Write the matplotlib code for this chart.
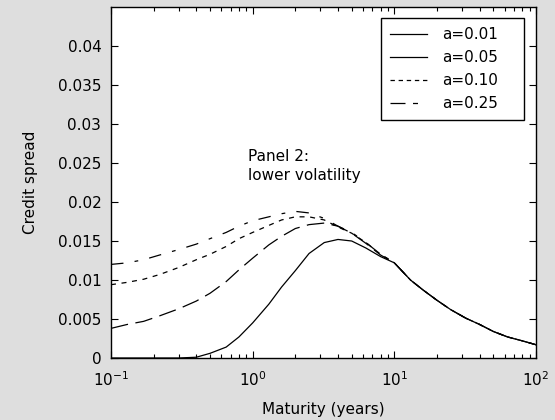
import matplotlib
matplotlib.use("Agg")
import matplotlib.pyplot as plt
from matplotlib.lines import Line2D
import numpy as np

# Maturity grid (years)
maturity = [0.1, 0.13, 0.17, 0.22, 0.3, 0.4, 0.5, 0.65, 0.8, 1.0, 1.3, 1.6, 2.0, 2.5,
            3.2, 4.0, 5.0, 6.3, 8.0, 10, 13, 16, 20, 25, 32, 40, 50, 63, 80, 100]

# Shared long-maturity tail (T >= 10)
tail = [0.0122, 0.0100, 0.0087, 0.0074, 0.0062, 0.0051, 0.0043, 0.0034, 0.0027, 0.0022, 0.0017]

spread_a001 = [0, 0, 0, 0, 0, 0.0001, 0.0006, 0.0014, 0.0027, 0.0045, 0.0069, 0.0091, 0.0112,
               0.0134, 0.0148, 0.0152, 0.0150, 0.0141, 0.0130] + tail
spread_a005 = [0.0038, 0.0043, 0.0047, 0.0054, 0.0063, 0.0073, 0.0083, 0.0098, 0.0113, 0.0128,
               0.0145, 0.0156, 0.0166, 0.0171, 0.0173, 0.0169, 0.0160, 0.0147, 0.0132] + tail
spread_a010 = [0.0094, 0.0097, 0.0101, 0.0107, 0.0116, 0.0126, 0.0133, 0.0143, 0.0153, 0.0161,
               0.0170, 0.0177, 0.0181, 0.0181, 0.0177, 0.0168, 0.0160, 0.0148, 0.0133] + tail
spread_a025 = [0.0120, 0.0122, 0.0126, 0.0132, 0.0139, 0.0146, 0.0153, 0.0161, 0.0169, 0.0176,
               0.0181, 0.0185, 0.0188, 0.0186, 0.0179, 0.0169, 0.0161, 0.0148, 0.0133] + tail

labels = ["a=0.01", "a=0.05", "a=0.10", "a=0.25"]
yticks = [0, 0.005, 0.01, 0.015, 0.02, 0.025, 0.03, 0.035, 0.04]
ytick_labels = ["0", "0.005", "0.01", "0.015", "0.02", "0.025", "0.03", "0.035", "0.04"]

plt.rcParams['font.family'] = ['DejaVu Sans']
fs = 11

fig = plt.figure(figsize=(5.55, 4.2), dpi=100, facecolor='#dedede')
ax = fig.add_axes([0.2, 0.1476, 0.7658, 0.8357])
ax.set_facecolor('white')

lw = 0.9
ax.plot(maturity, spread_a001, color='black', lw=lw, linestyle='-')
ax.plot(maturity, spread_a005, color='black', lw=lw, linestyle=(0, (14, 6)))
ax.plot(maturity, spread_a010, color='black', lw=lw, linestyle=(0, (4, 4.5)))
ax.plot(maturity, spread_a025, color='black', lw=lw, linestyle=(0, (10, 9, 3, 9)))

ax.set_xscale('log')
ax.set_xlim(0.1, 100)
ax.set_ylim(0, 0.045)
ax.set_yticks(yticks)
ax.set_yticklabels(ytick_labels)

ax.tick_params(which='both', direction='in', top=True, right=True, labelsize=fs, colors='black')
ax.tick_params(which='major', length=5, width=0.8)
ax.tick_params(which='minor', length=3, width=0.8)
ax.tick_params(axis='x', which='major', pad=9)
ax.tick_params(axis='y', which='major', pad=7)
for s in ax.spines.values():
    s.set_linewidth(1.0)
    s.set_color('black')

ax.set_xlabel("Maturity (years)", fontsize=fs, labelpad=9)
ax.set_ylabel("Credit spread", fontsize=fs, labelpad=14)

ax.text(0.93, 0.0268, "Panel 2:\nlower volatility", fontsize=fs, va='top', ha='left',
        linespacing=1.3)

handles = [Line2D([], [], color='black', lw=lw, linestyle='-'),
           Line2D([], [], color='black', lw=lw, linestyle='-'),
           Line2D([], [], color='black', lw=lw, linestyle=(0, (3.5, 3))),
           Line2D([], [], color='black', lw=lw, linestyle=(0, (12, 6, 4, 20)))]
leg = ax.legend(handles, labels, loc='upper left', bbox_to_anchor=(0.635, 0.678, 0.337, 0.2907),
                mode='expand', fontsize=fs, frameon=True, fancybox=False,
                framealpha=1, edgecolor='black', handlelength=2.4, handletextpad=1.0,
                labelspacing=0.52, borderaxespad=0.0, borderpad=0.6)
leg.get_frame().set_linewidth(1.0)

fig.savefig("out.png", dpi=100, facecolor=fig.get_facecolor())
